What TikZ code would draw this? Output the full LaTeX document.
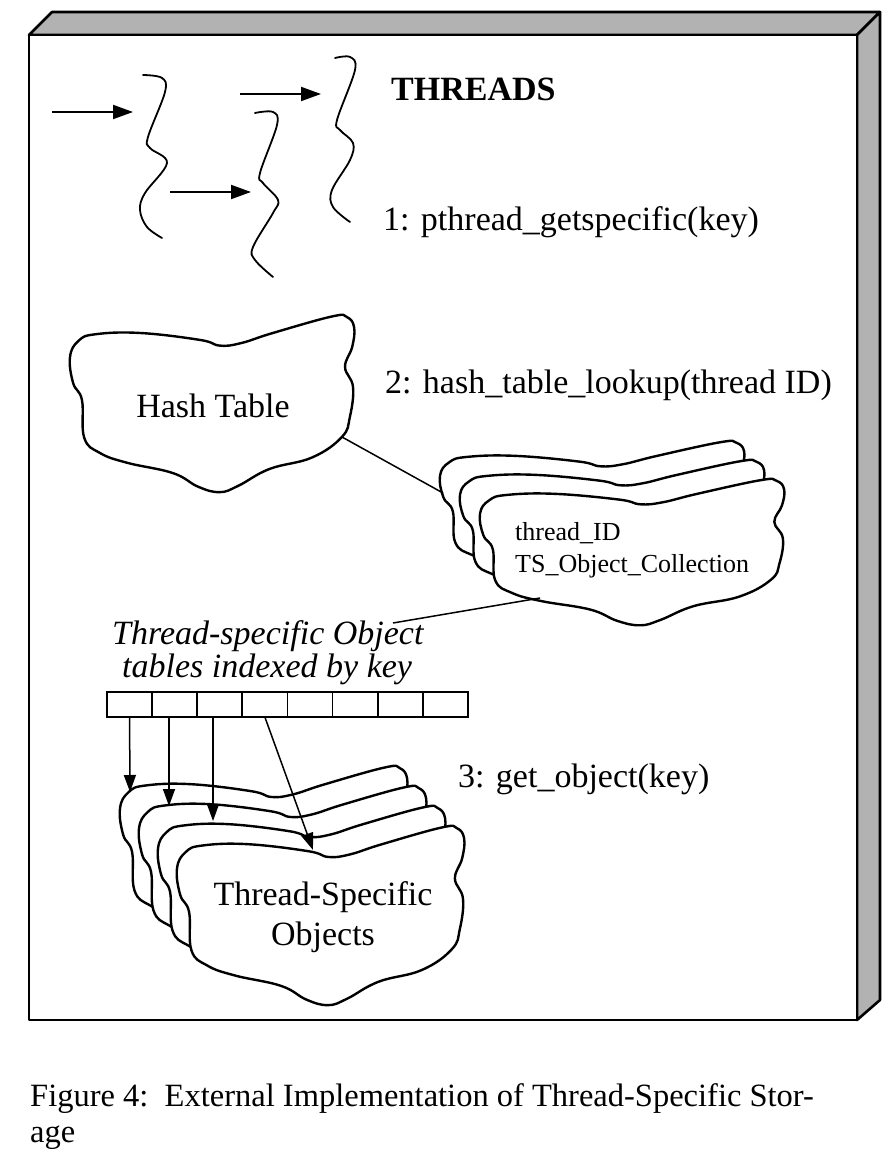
\documentclass[tikz,border=0pt]{standalone}
\usepackage{fontspec}
\setmainfont{Liberation Serif}
\usetikzlibrary{arrows.meta}
\tikzset{
  frameline/.style={line width=2.6pt, line join=round},
  sideface/.style={frameline, fill=gray!60},
  cloudline/.style={line width=2.4pt, fill=white, line join=round},
  threadline/.style={line width=1.8pt, line cap=round},
  bigarrow/.style={line width=2pt, -{Triangle[length=20pt,width=14pt]}},
  smallarrow/.style={line width=1.5pt, -{Triangle[length=17pt,width=12pt]}},
  plainline/.style={line width=1.5pt},
  cellbox/.style={draw, line width=1.8pt, minimum width=45.1pt, minimum height=25pt, inner sep=0pt, outer sep=0pt},
  lbl/.style={anchor=base west, inner sep=0pt, font=\fontsize{34}{34}\selectfont},
  midlbl/.style={anchor=base, inner sep=0pt, font=\fontsize{34}{34}\selectfont},
}
\newcommand\mycloud[4]{%
  \draw[cloudline, shift={(#1,#2)}, xscale=#3, yscale=#4]
    plot[smooth cycle, tension=0.7] coordinates {
      (0,0.236) (0.03,0.145) (0.09,0.108) (0.246,0.101) (0.456,0.140)
      (0.526,0.172) (0.60,0.158) (0.712,0.101) (0.92,0.008) (0.972,0.012)
      (0.997,0.07) (0.99,0.18) (0.965,0.292) (0.993,0.404) (0.982,0.573)
      (0.954,0.685) (0.85,0.80) (0.70,0.865) (0.59,0.96) (0.525,0.995)
      (0.45,0.965) (0.361,0.888) (0.20,0.83) (0.105,0.775) (0.05,0.69)
      (0.042,0.478) (0.011,0.382)};}
\begin{document}
\begin{tikzpicture}[x=1pt, y=-1pt]
\useasboundingbox (0,0) rectangle (894,1166);
% frame
\draw[sideface] (29,35) -- (52,12) -- (880,12) -- (857,35) -- cycle;
\draw[sideface] (857,35) -- (880,12) -- (880,1000) -- (857,1020) -- cycle;
\draw[frameline, fill=white] (29,35) rectangle (857,1020);

% threads
\draw[threadline] plot[smooth, tension=0.6] coordinates {(143,75) (162,78) (165,92) (148,137) (150,148) (167,163) (145,193) (140,210) (147,227) (162,238)};
\draw[threadline] plot[smooth, tension=0.6] coordinates {(255,113) (273,112) (277,125) (260,173) (263,183) (278,200) (273,213) (253,247) (255,260) (273,277)};
\draw[threadline] plot[smooth, tension=0.6] coordinates {(335,58) (350,57) (355,70) (337,120) (340,130) (353,143) (350,160) (332,190) (333,207) (350,222)};

\coordinate (a1s) at (52,112);  \coordinate (a1e) at (133,112);
\coordinate (a2s) at (170,192); \coordinate (a2e) at (251,192);
\coordinate (a3s) at (240,94);  \coordinate (a3e) at (321,94);
\draw[bigarrow] (a1s) -- (a1e);
\draw[bigarrow] (a2s) -- (a2e);
\draw[bigarrow] (a3s) -- (a3e);

\node[lbl, font=\fontsize{34}{34}\selectfont\bfseries] (threads) at (391,101) {THREADS};
\node[lbl] (step1) at (383,231) {1: pthread\_getspecific(key)};

% hash table
\mycloud{70}{315}{285}{178}
\node[midlbl] (hash) at (213,417) {Hash Table};
\node[lbl] (step2) at (385,393) {2: hash\_table\_lookup(thread ID)};

% TS collection stack
\mycloud{440}{441}{305}{147}
\mycloud{460}{460}{305}{147}
\mycloud{480}{479}{305}{147}
\node[lbl, font=\fontsize{26}{26}\selectfont] (tid) at (515,540) {thread\_ID};
\node[lbl, font=\fontsize{26}{26}\selectfont] (tsoc) at (515,572) {TS\_Object\_Collection};

\coordinate (htse) at (342,437);
\coordinate (tsw) at (443,493);
\draw[plainline] (htse) -- (tsw);

% table label
\node[lbl, font=\fontsize{34}{30}\selectfont\itshape] (tl1) at (112,644) {Thread-specific Object};
\node[lbl, font=\fontsize{34}{30}\selectfont\itshape] (tl2) at (122,677) {tables indexed by key};
\coordinate (tsbot) at (540,598);
\coordinate (tlend) at (393,623);
\draw[plainline] (tsbot) -- (tlend);

% array of cells
\foreach \i in {1,...,8} {
  \node[cellbox] (c\i) at ({107+45.1*(\i-0.5)},704.5) {};
}

% objects stack
\mycloud{120}{766}{288}{180}
\mycloud{139}{786}{288}{180}
\mycloud{158}{806}{288}{180}
\mycloud{177}{826}{288}{180}
\node[midlbl] (ts1) at (323,905) {Thread-Specific};
\node[midlbl] (ts2) at (323,945) {Objects};
\node[lbl] (step3) at (458,787) {3: get\_object(key)};

\coordinate (t1) at (130,792);
\coordinate (t2) at (169,806);
\coordinate (t3) at (213,821);
\coordinate (t4) at (313,850);
\draw[smallarrow] (c1.south) -- (t1);
\draw[smallarrow] (c2.south -| t2) -- (t2);
\draw[smallarrow] (c3.south -| t3) -- (t3);
\draw[smallarrow] (c4.south) -- (t4);

% caption
\node[lbl, font=\fontsize{32.5}{32.5}\selectfont] (cap1) at (30,1106) {Figure 4:\ \ External Implementation of Thread-Specific Stor-};
\node[lbl, font=\fontsize{32.5}{32.5}\selectfont] (cap2) at (30,1142) {age};
\end{tikzpicture}
\end{document}
